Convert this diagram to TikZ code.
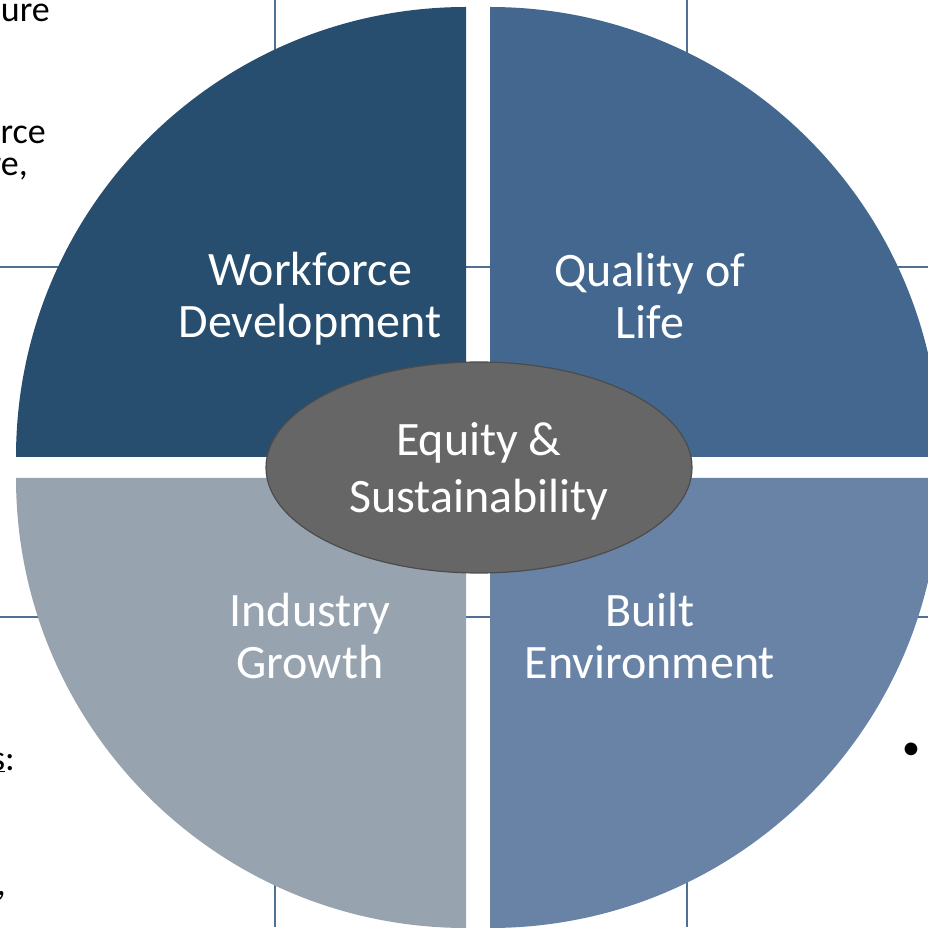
\documentclass[tikz,border=0pt]{standalone}
\usepackage{fontspec}
\setmainfont{Carlito}
\usetikzlibrary{shapes.geometric}
\definecolor{wdblue}{HTML}{274E6F}
\definecolor{qlblue}{HTML}{43678E}
\definecolor{iggray}{HTML}{98A3B0}
\definecolor{beblue}{HTML}{6983A6}
\definecolor{eqgray}{HTML}{666666}
\definecolor{gridline}{HTML}{4F6F94}
\tikzset{
	quadlabel/.style={text=white, align=center, font=\fontsize{48}{52}\selectfont, inner sep=0},
	sidetext/.style={anchor=base east, font=\fontsize{36}{40}\selectfont, inner sep=0}
}
\begin{document}
\begin{tikzpicture}[x=1pt,y=1pt]
		\useasboundingbox (0,0) rectangle (928,927);
		\clip (0,0) rectangle (928,927);
		% frame lines behind the wheel
		\draw [gridline, line width=1.5] (275,0) -- (275,927);
		\draw [gridline, line width=1.5] (687,0) -- (687,927);
		\draw [gridline, line width=1.5] (0,660) -- (928,660);
		\draw [gridline, line width=1.5] (0,310) -- (928,310);
		% cut-off text of the boxes
		\node [sidetext] (t_1) at (50,905) {ure};
		\node [sidetext] (t_2) at (46,783) {rce};
		\node [sidetext] (t_3) at (28,751) {re,};
		\node [sidetext] (t_4) at (15,157) {\underline{s}:};
		\node [sidetext] (t_5) at (6,32) {,};
		\node [sidetext] (t_6) at (30,-22) {m};
		\node [font=\fontsize{36}{40}\selectfont, inner sep=0] (t_7) at (911,176) {\textbullet};
		% the four quarters
		\foreach \x/\y/\a/\c in {466/470/90/wdblue, 490/470/0/qlblue, 466/449/180/iggray, 490/449/270/beblue}
			\fill [color=\c] (\x,\y) -- ++(\a:450) arc (\a:\a+90:450) -- cycle;
		\foreach \x/\y/\l/\n in {310/628/{Workforce\\Development}/wd, 650/631/{Quality of\\Life}/ql, 310/291/{Industry\\Growth}/ig, 650/291/{Built\\Environment}/be}
			\node [quadlabel] (q_\n) at (\x,\y) {\l};
		% centre
		\node [ellipse, fill=eqgray, draw=black!70, line width=1.2, minimum width=426, minimum height=211, inner sep=0] (eq) at (479,459.5) {};
		\node [quadlabel, font=\fontsize{48}{57}\selectfont, yshift=-4] (eq_t) at (eq.center) {Equity \&\\Sustainability};
	\end{tikzpicture}
\end{document}
